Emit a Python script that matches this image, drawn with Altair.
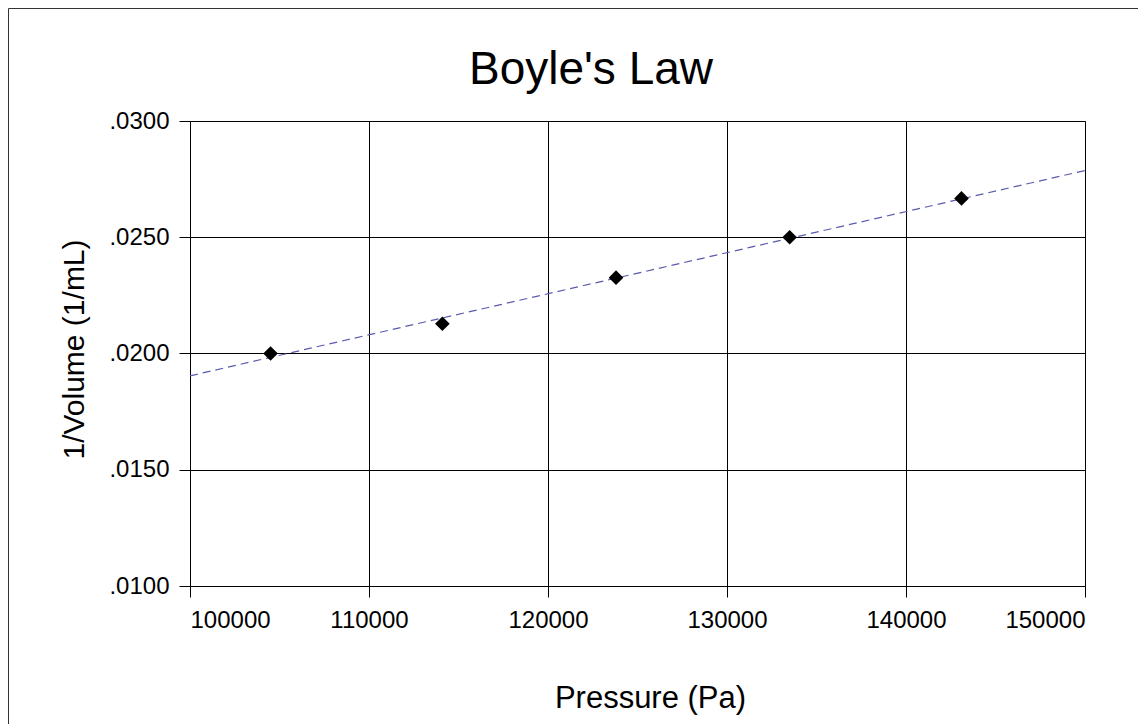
import altair as alt
import pandas as pd

pressure = [104500, 114100, 123800, 133500, 143100]
inv_volume = [0.0200, 0.02128, 0.02326, 0.0250, 0.02667]
x_ticks = [100000, 110000, 120000, 130000, 140000, 150000]
y_ticks = [0.0100, 0.0150, 0.0200, 0.0250, 0.0300]
chart_title = ["Boyle's Law"]

df = pd.DataFrame({"pressure": pressure, "inv_volume": inv_volume})

FONT = "Liberation Sans"
W, H = 895, 465

xenc = alt.X(
    "pressure:Q",
    scale=alt.Scale(domain=[100000, 150000], nice=False, zero=False),
    axis=alt.Axis(
        values=x_ticks, format="d", title="Pressure (Pa)",
        grid=True, gridColor="#000000", gridWidth=1, gridOpacity=1,
        domainColor="#000000", tickColor="#000000", tickSize=11,
        labelFont=FONT, labelFontSize=24, labelColor="#000000",
        labelBaseline="alphabetic", labelPadding=30,
        titleFont=FONT, titleFontSize=31, titleFontWeight="normal", titleColor="#000000",
        titleX=460, titleY=121, titleBaseline="alphabetic", titleAlign="center",
    ),
)
yenc = alt.Y(
    "inv_volume:Q",
    scale=alt.Scale(domain=[0.01, 0.03], nice=False, zero=False),
    axis=alt.Axis(
        values=y_ticks, labelExpr="substring(format(datum.value, '.4f'), 1)",
        title="1/Volume (1/mL)",
        grid=True, gridColor="#000000", gridWidth=1, gridOpacity=1,
        domainColor="#000000", tickColor="#000000", tickSize=11,
        labelFont=FONT, labelFontSize=24, labelColor="#000000", labelPadding=10,
        titleFont=FONT, titleFontSize=30, titleFontWeight="normal", titleColor="#000000",
        titleX=-107, titleY=228, titleAngle=270, titleBaseline="alphabetic", titleAlign="center",
    ),
)

base = alt.Chart(df)

trend = base.transform_regression(
    "pressure", "inv_volume", extent=[100000, 150000]
).mark_line(color="#5a5aae", strokeWidth=1.2, strokeDash=[8, 5], clip=True).encode(x=xenc, y=yenc)

points = base.mark_point(shape="diamond", filled=True, color="#000000", size=215, opacity=1).encode(
    x=xenc, y=yenc
)

one = pd.DataFrame({"label": chart_title})

frame = alt.Chart(one).mark_rect(
    fill="transparent", stroke="#333333", strokeWidth=1
).encode(
    x=alt.value(-181.5), x2=alt.value(2000), y=alt.value(-112.5), y2=alt.value(2000)
)

title = alt.Chart(one).mark_text(
    font=FONT, fontSize=46, color="#000000", align="center", baseline="alphabetic"
).encode(text="label:N", x=alt.value(401), y=alt.value(-37))

chart = alt.layer(frame, trend, points, title).properties(
    width=W, height=H,
    padding={"left": 182, "top": 113, "right": 53, "bottom": 138},
    autosize=alt.AutoSizeParams(type="none"),
    background="#ffffff",
).configure_view(stroke="#808080", strokeWidth=1)

chart.save("out.html", embed_options={"renderer": "svg", "actions": False})
